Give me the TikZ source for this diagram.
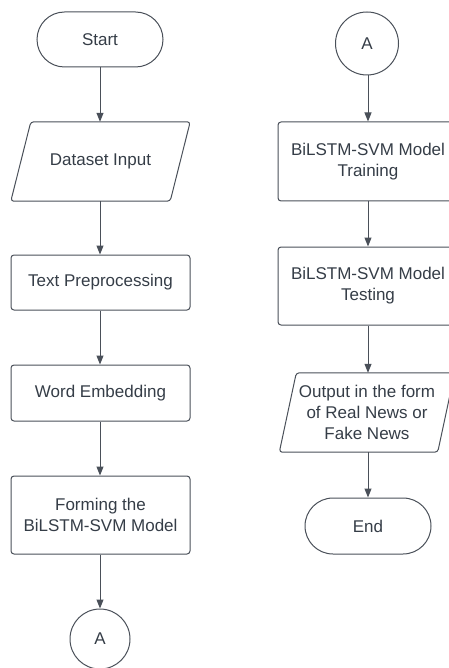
\documentclass[tikz,border=0pt]{standalone}
\usepackage{fontspec}
\setmainfont{Liberation Sans}
\usetikzlibrary{arrows.meta}
\definecolor{linec}{HTML}{4A5059}
\definecolor{textc}{HTML}{353D47}
\tikzset{
  every node/.style={text=textc, font=\fontsize{17}{21}\selectfont, align=center, inner sep=0pt},
  box/.style={draw=linec, line width=1pt, rounded corners=3pt, minimum width=179pt},
  term/.style={draw=linec, line width=1pt, rounded corners=27.5pt, minimum width=126pt, minimum height=55pt},
  conn/.style={draw=linec, line width=1pt, circle},
  ghost/.style={minimum width=159pt, minimum height=79pt},
  para/.style={draw=linec, line width=1pt, rounded corners=3pt},
  arr/.style={draw=linec, line width=1pt, -{Triangle[length=9pt,width=7pt]}},
}
\begin{document}
\begin{tikzpicture}[x=1pt,y=-1pt]
\useasboundingbox (0,0) rectangle (448,668);
% left column
\node[term] (start) at (100,39.5) {Start};
\node[ghost] (data) at (100.5,161.5) {Dataset Input};
\draw[para] ([xshift=10pt]data.north west) -- ([xshift=10pt]data.north east) -- ([xshift=-10pt]data.south east) -- ([xshift=-10pt]data.south west) -- cycle;
\node[box, minimum height=55pt] (prep) at (100.5,282.5) {Text Preprocessing};
\node[box, minimum height=56pt] (emb) at (100.5,393) {Word Embedding};
\node[box, minimum height=78pt] (form) at (100.5,515) {Forming the\\BiLSTM-SVM Model};
\node[conn, minimum size=60pt] (a1) at (100,639) {A};
% right column
\node[conn, minimum size=63pt] (a2) at (367,43.5) {A};
\node[box, minimum width=180pt, minimum height=79pt] (train) at (368,161.5) {BiLSTM-SVM Model\\Training};
\node[box, minimum width=180pt, minimum height=78pt] (test) at (368,286) {BiLSTM-SVM Model\\Testing};
\node[ghost, minimum width=158pt] (out) at (367,412.5) {Output in the form\\of Real News or\\Fake News};
\draw[para] ([xshift=8.5pt]out.north west) -- ([xshift=8.5pt]out.north east) -- ([xshift=-8.5pt]out.south east) -- ([xshift=-8.5pt]out.south west) -- cycle;
\node[term, minimum height=56pt, rounded corners=28pt] (end) at (368,526) {End};
% connectors
\draw[arr] (start.south) -- (start.south |- data.north);
\draw[arr] (start.south |- data.south) -- (start.south |- prep.north);
\draw[arr] (start.south |- prep.south) -- (start.south |- emb.north);
\draw[arr] (start.south |- emb.south) -- (start.south |- form.north);
\draw[arr] (start.south |- form.south) -- (a1.north);
\draw[arr] (end.north |- a2.south) -- (end.north |- train.north);
\draw[arr] (end.north |- train.south) -- (end.north |- test.north);
\draw[arr] (end.north |- test.south) -- (end.north |- out.north);
\draw[arr] (end.north |- out.south) -- (end.north);
\end{tikzpicture}
\end{document}
